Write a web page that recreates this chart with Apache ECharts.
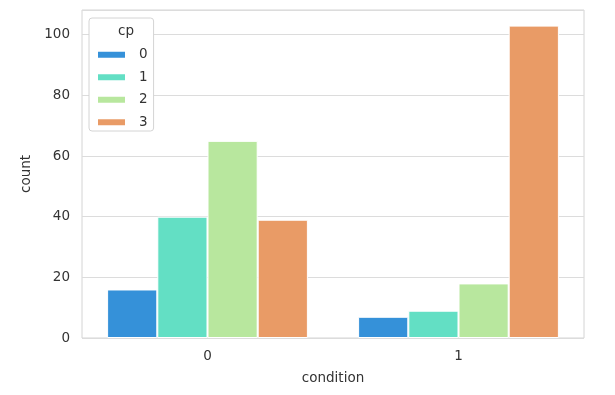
<!DOCTYPE html>
<html><head><meta charset="utf-8">
<script src="https://cdn.jsdelivr.net/npm/echarts@6/dist/echarts.min.js"></script>
<style>html,body{margin:0;padding:0;background:#fff}#c{width:615px;height:395px}</style>
</head><body><div id="c"></div>
<script>
const categories = ['0', '1'];
const cpLabels = ['0', '1', '2', '3'];
const cp0 = [16, 7];
const cp1 = [40, 9];
const cp2 = [65, 18];
const cp3 = [39, 103];
const colors = ['#3591d9', '#63dfc4', '#b8e79e', '#e99b66'];
const yTicks = [0, 20, 40, 60, 80, 100];

const seriesValues = [cp0, cp1, cp2, cp3];
const font = 'DejaVu Sans';
const txt = '#333333';
const chart = echarts.init(document.getElementById('c'), null, {renderer: 'canvas'});
chart.setOption({
  animation: false,
  textStyle: {fontFamily: font},
  grid: {left: 82, right: 31, top: 10, bottom: 57, show: true, borderColor: '#d4d4d4', borderWidth: 1},
  title: {text: 'cp', left: 121, top: 19, textAlign: 'center',
    textStyle: {fontFamily: font, fontSize: 13.5, fontWeight: 'normal', color: txt}},
  legend: {
    orient: 'vertical', left: 89, top: 18,
    padding: [29, 6, 1, 7],
    backgroundColor: '#fff', borderColor: '#d4d4d4', borderWidth: 1, borderRadius: 3,
    itemWidth: 29, itemHeight: 8, itemGap: 7,
    icon: 'rect',
    textStyle: {fontFamily: font, fontSize: 13.5, color: txt, lineHeight: 15.5, padding: [0, 0, 0, 8]},
    data: cpLabels
  },
  xAxis: {
    type: 'category', data: categories,
    name: 'condition', nameLocation: 'middle', nameGap: 33,
    nameTextStyle: {fontFamily: font, fontSize: 13.5, color: txt},
    axisLine: {show: false}, axisTick: {show: false},
    axisLabel: {fontFamily: font, fontSize: 13.5, color: txt, margin: 11},
    splitLine: {show: false}
  },
  yAxis: {
    type: 'value', min: 0, max: 108.15, interval: 20,
    name: 'count', nameLocation: 'middle', nameGap: 46,
    nameTextStyle: {fontFamily: font, fontSize: 13.5, color: txt},
    axisLine: {show: false}, axisTick: {show: false},
    axisLabel: {fontFamily: font, fontSize: 13.5, color: txt, margin: 12,
      formatter: v => (yTicks.includes(v) ? String(v) : '')},
    splitLine: {show: true, lineStyle: {color: '#dcdcdc', width: 1}}
  },
  series: seriesValues.map((vals, i) => ({
    name: cpLabels[i], type: 'bar', data: vals,
    barGap: '0%', barCategoryGap: '20%',
    itemStyle: {color: colors[i], borderColor: '#ffffff', borderWidth: 1}
  }))
});
</script></body></html>
